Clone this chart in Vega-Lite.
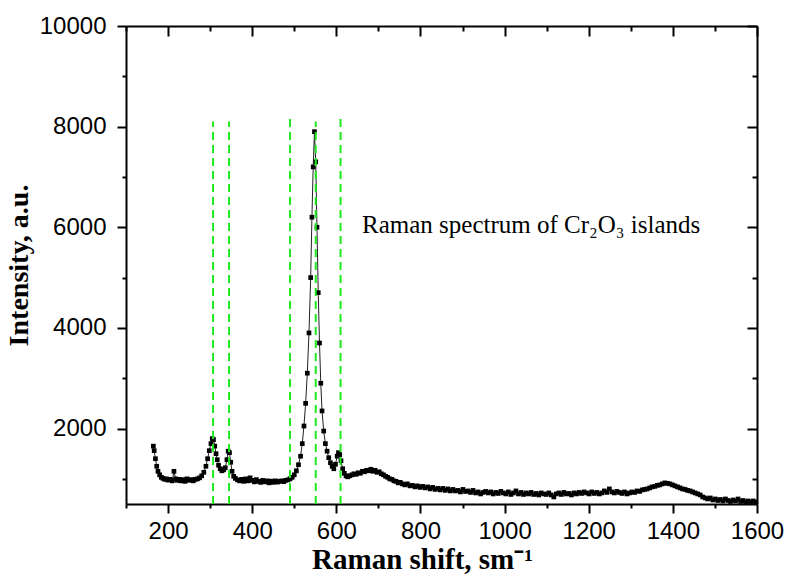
{
  "$schema": "https://vega.github.io/schema/vega-lite/v6.json",
  "width": 631,
  "height": 478,
  "autosize": {"type": "none"},
  "padding": {"left": 126, "top": 26, "right": 31, "bottom": 72},
  "background": "white",
  "config": {
    "view": {"stroke": null},
    "axis": {
      "domainColor": "black", "domainWidth": 2, "tickColor": "black", "tickWidth": 2, "grid": false,
      "labelFont": "Liberation Sans", "labelFontSize": 24, "labelColor": "black",
      "titleFont": "Liberation Serif", "titleFontWeight": "bold", "titleFontSize": 29, "titleColor": "black"
    }
  },
  "datasets": {
    "spec": [
      {"shift":165,"intensity":1650},{"shift":167,"intensity":1560},{"shift":170,"intensity":1400},{"shift":173,"intensity":1250},{"shift":176,"intensity":1150},{"shift":180,"intensity":1080},{"shift":184,"intensity":1030},{"shift":188,"intensity":1010},{"shift":192,"intensity":990},{"shift":196,"intensity":1000},{"shift":200,"intensity":975},{"shift":205,"intensity":990},{"shift":210,"intensity":960},{"shift":214,"intensity":1150},{"shift":218,"intensity":1000},{"shift":222,"intensity":970},{"shift":226,"intensity":990},{"shift":230,"intensity":960},{"shift":235,"intensity":985},{"shift":240,"intensity":950},{"shift":245,"intensity":1000},{"shift":250,"intensity":970},{"shift":255,"intensity":985},{"shift":260,"intensity":960},{"shift":265,"intensity":990},{"shift":270,"intensity":1000},{"shift":275,"intensity":1020},{"shift":280,"intensity":1060},{"shift":285,"intensity":1130},{"shift":290,"intensity":1250},{"shift":294,"intensity":1400},{"shift":298,"intensity":1560},{"shift":302,"intensity":1700},{"shift":305,"intensity":1800},{"shift":308,"intensity":1780},{"shift":311,"intensity":1650},{"shift":314,"intensity":1500},{"shift":317,"intensity":1380},{"shift":320,"intensity":1270},{"shift":324,"intensity":1200},{"shift":328,"intensity":1160},{"shift":332,"intensity":1180},{"shift":336,"intensity":1220},{"shift":340,"intensity":1380},{"shift":343,"intensity":1550},{"shift":346,"intensity":1520},{"shift":349,"intensity":1330},{"shift":352,"intensity":1150},{"shift":356,"intensity":1050},{"shift":360,"intensity":1010},{"shift":365,"intensity":980},{"shift":370,"intensity":960},{"shift":375,"intensity":990},{"shift":380,"intensity":950},{"shift":385,"intensity":1000},{"shift":390,"intensity":960},{"shift":395,"intensity":1020},{"shift":400,"intensity":970},{"shift":405,"intensity":940},{"shift":410,"intensity":985},{"shift":415,"intensity":950},{"shift":420,"intensity":930},{"shift":425,"intensity":970},{"shift":430,"intensity":940},{"shift":435,"intensity":960},{"shift":440,"intensity":920},{"shift":445,"intensity":955},{"shift":450,"intensity":930},{"shift":455,"intensity":960},{"shift":460,"intensity":935},{"shift":465,"intensity":950},{"shift":470,"intensity":960},{"shift":475,"intensity":945},{"shift":480,"intensity":970},{"shift":485,"intensity":980},{"shift":490,"intensity":1000},{"shift":495,"intensity":1030},{"shift":500,"intensity":1080},{"shift":505,"intensity":1160},{"shift":510,"intensity":1280},{"shift":515,"intensity":1450},{"shift":519,"intensity":1700},{"shift":523,"intensity":2050},{"shift":527,"intensity":2500},{"shift":531,"intensity":3100},{"shift":535,"intensity":3900},{"shift":539,"intensity":5000},{"shift":542,"intensity":6200},{"shift":545,"intensity":7200},{"shift":548,"intensity":7900},{"shift":551,"intensity":7300},{"shift":554,"intensity":6000},{"shift":557,"intensity":4700},{"shift":560,"intensity":3700},{"shift":563,"intensity":2900},{"shift":566,"intensity":2350},{"shift":570,"intensity":1950},{"shift":574,"intensity":1700},{"shift":578,"intensity":1550},{"shift":582,"intensity":1420},{"shift":586,"intensity":1320},{"shift":590,"intensity":1250},{"shift":594,"intensity":1200},{"shift":598,"intensity":1290},{"shift":602,"intensity":1450},{"shift":605,"intensity":1520},{"shift":608,"intensity":1480},{"shift":611,"intensity":1360},{"shift":615,"intensity":1200},{"shift":619,"intensity":1110},{"shift":623,"intensity":1060},{"shift":627,"intensity":1040},{"shift":632,"intensity":1060},{"shift":637,"intensity":1080},{"shift":642,"intensity":1100},{"shift":647,"intensity":1090},{"shift":652,"intensity":1120},{"shift":657,"intensity":1110},{"shift":662,"intensity":1150},{"shift":667,"intensity":1140},{"shift":672,"intensity":1170},{"shift":677,"intensity":1160},{"shift":682,"intensity":1190},{"shift":687,"intensity":1150},{"shift":692,"intensity":1170},{"shift":697,"intensity":1130},{"shift":702,"intensity":1140},{"shift":707,"intensity":1100},{"shift":712,"intensity":1080},{"shift":717,"intensity":1050},{"shift":722,"intensity":1030},{"shift":727,"intensity":1000},{"shift":732,"intensity":990},{"shift":737,"intensity":960},{"shift":742,"intensity":950},{"shift":747,"intensity":920},{"shift":752,"intensity":930},{"shift":757,"intensity":900},{"shift":763,"intensity":880},{"shift":769,"intensity":900},{"shift":775,"intensity":860},{"shift":781,"intensity":870},{"shift":787,"intensity":840},{"shift":793,"intensity":860},{"shift":799,"intensity":830},{"shift":805,"intensity":850},{"shift":811,"intensity":820},{"shift":817,"intensity":840},{"shift":823,"intensity":800},{"shift":829,"intensity":830},{"shift":835,"intensity":790},{"shift":841,"intensity":810},{"shift":847,"intensity":780},{"shift":853,"intensity":810},{"shift":859,"intensity":770},{"shift":865,"intensity":800},{"shift":871,"intensity":760},{"shift":877,"intensity":790},{"shift":883,"intensity":760},{"shift":889,"intensity":770},{"shift":895,"intensity":740},{"shift":901,"intensity":790},{"shift":907,"intensity":750},{"shift":913,"intensity":760},{"shift":919,"intensity":730},{"shift":925,"intensity":770},{"shift":931,"intensity":720},{"shift":937,"intensity":740},{"shift":943,"intensity":700},{"shift":949,"intensity":730},{"shift":955,"intensity":750},{"shift":961,"intensity":720},{"shift":967,"intensity":740},{"shift":973,"intensity":700},{"shift":979,"intensity":730},{"shift":985,"intensity":710},{"shift":991,"intensity":750},{"shift":997,"intensity":720},{"shift":1003,"intensity":700},{"shift":1009,"intensity":740},{"shift":1015,"intensity":690},{"shift":1021,"intensity":720},{"shift":1027,"intensity":760},{"shift":1033,"intensity":700},{"shift":1039,"intensity":730},{"shift":1045,"intensity":690},{"shift":1051,"intensity":720},{"shift":1057,"intensity":700},{"shift":1063,"intensity":730},{"shift":1069,"intensity":690},{"shift":1075,"intensity":710},{"shift":1081,"intensity":680},{"shift":1087,"intensity":720},{"shift":1093,"intensity":700},{"shift":1099,"intensity":690},{"shift":1105,"intensity":720},{"shift":1111,"intensity":680},{"shift":1117,"intensity":640},{"shift":1123,"intensity":700},{"shift":1129,"intensity":720},{"shift":1135,"intensity":690},{"shift":1141,"intensity":730},{"shift":1147,"intensity":700},{"shift":1153,"intensity":710},{"shift":1159,"intensity":680},{"shift":1165,"intensity":720},{"shift":1171,"intensity":700},{"shift":1177,"intensity":730},{"shift":1183,"intensity":710},{"shift":1189,"intensity":740},{"shift":1195,"intensity":720},{"shift":1201,"intensity":700},{"shift":1207,"intensity":740},{"shift":1213,"intensity":710},{"shift":1219,"intensity":730},{"shift":1225,"intensity":700},{"shift":1231,"intensity":720},{"shift":1237,"intensity":760},{"shift":1243,"intensity":730},{"shift":1249,"intensity":800},{"shift":1255,"intensity":740},{"shift":1261,"intensity":720},{"shift":1267,"intensity":750},{"shift":1273,"intensity":730},{"shift":1279,"intensity":710},{"shift":1285,"intensity":740},{"shift":1291,"intensity":700},{"shift":1297,"intensity":720},{"shift":1303,"intensity":740},{"shift":1309,"intensity":730},{"shift":1315,"intensity":760},{"shift":1321,"intensity":750},{"shift":1327,"intensity":780},{"shift":1333,"intensity":790},{"shift":1339,"intensity":800},{"shift":1345,"intensity":820},{"shift":1351,"intensity":840},{"shift":1357,"intensity":850},{"shift":1363,"intensity":870},{"shift":1369,"intensity":880},{"shift":1375,"intensity":900},{"shift":1381,"intensity":920},{"shift":1387,"intensity":910},{"shift":1393,"intensity":900},{"shift":1399,"intensity":880},{"shift":1405,"intensity":860},{"shift":1411,"intensity":840},{"shift":1417,"intensity":820},{"shift":1423,"intensity":800},{"shift":1429,"intensity":790},{"shift":1435,"intensity":770},{"shift":1441,"intensity":760},{"shift":1447,"intensity":740},{"shift":1453,"intensity":720},{"shift":1459,"intensity":700},{"shift":1465,"intensity":680},{"shift":1471,"intensity":640},{"shift":1477,"intensity":620},{"shift":1483,"intensity":600},{"shift":1489,"intensity":620},{"shift":1495,"intensity":580},{"shift":1501,"intensity":600},{"shift":1507,"intensity":570},{"shift":1513,"intensity":590},{"shift":1519,"intensity":560},{"shift":1525,"intensity":600},{"shift":1531,"intensity":570},{"shift":1537,"intensity":550},{"shift":1543,"intensity":580},{"shift":1549,"intensity":560},{"shift":1555,"intensity":600},{"shift":1561,"intensity":550},{"shift":1567,"intensity":570},{"shift":1573,"intensity":540},{"shift":1579,"intensity":560},{"shift":1585,"intensity":530},{"shift":1591,"intensity":560},{"shift":1597,"intensity":540}
    ],
    "lines": [
      {"shift":307,"low":500,"high":8100},
      {"shift":345,"low":500,"high":8100},
      {"shift":490,"low":500,"high":8200},
      {"shift":551,"low":500,"high":8100},
      {"shift":610,"low":500,"high":8200}
    ],
    "note": [
      {"shift":661,"intensity":5880,"label":"Raman spectrum of Cr₂O₃ islands"}
    ]
  },
  "layer": [
    {
      "data": {"name": "spec"},
      "mark": {"type": "line", "color": "#222222", "strokeWidth": 1},
      "encoding": {
        "x": {"field": "shift", "type": "quantitative", "scale": {"domain": [100, 1600], "nice": false, "zero": false},
          "axis": {"orient": "bottom", "values": [100,200,300,400,500,600,700,800,900,1000,1100,1200,1300,1400,1500,1600],
            "format": "d", "labelExpr": "datum.value % 200 === 0 ? datum.label : ''",
            "tickSize": {"condition": {"test": "datum.value % 200 === 0", "value": 9}, "value": 4},
            "labelPadding": 6, "labelFlush": false, "labelOverlap": false,
            "title": "Raman shift, sm⁻¹", "titlePadding": 2, "titleX": 296}},
        "y": {"field": "intensity", "type": "quantitative", "scale": {"domain": [500, 10000], "nice": false, "zero": false},
          "axis": {"orient": "left", "values": [1000,2000,3000,4000,5000,6000,7000,8000,9000,10000],
            "format": "d", "labelExpr": "datum.value % 2000 === 0 ? datum.label : ''",
            "tickSize": {"condition": {"test": "datum.value % 2000 === 0", "value": 9}, "value": 4},
            "labelPadding": 11, "labelFlush": false, "labelOverlap": false,
            "title": "Intensity, a.u.", "titleFontSize": 28, "titlePadding": 6}}
      }
    },
    {
      "data": {"name": "spec"},
      "mark": {"type": "square", "size": 22, "color": "black", "opacity": 1},
      "encoding": {
        "x": {"field": "shift", "type": "quantitative", "axis": null},
        "y": {"field": "intensity", "type": "quantitative", "axis": null}
      }
    },
    {
      "data": {"name": "lines"},
      "mark": {"type": "rule", "color": "#1ee81e", "strokeWidth": 2, "strokeDash": [8, 5]},
      "encoding": {
        "x": {"field": "shift", "type": "quantitative",
          "axis": {"orient": "top", "values": [100,200,300,400,500,600,700,800,900,1000,1100,1200,1300,1400,1500,1600],
            "labels": false, "title": null,
            "tickSize": {"condition": {"test": "datum.value % 200 === 0", "value": -10}, "value": -5}}},
        "y": {"field": "low", "type": "quantitative",
          "axis": {"orient": "right", "values": [1000,2000,3000,4000,5000,6000,7000,8000,9000,10000],
            "labels": false, "title": null,
            "tickSize": {"condition": {"test": "datum.value % 2000 === 0", "value": -10}, "value": -5}}},
        "y2": {"field": "high"}
      }
    },
    {
      "data": {"name": "note"},
      "mark": {"type": "text", "align": "left", "baseline": "alphabetic", "font": "Liberation Serif", "fontSize": 25, "color": "black"},
      "encoding": {
        "x": {"field": "shift", "type": "quantitative", "axis": null},
        "y": {"field": "intensity", "type": "quantitative", "axis": null},
        "text": {"field": "label"}
      }
    }
  ],
  "resolve": {"axis": {"x": "independent", "y": "independent"}}
}
